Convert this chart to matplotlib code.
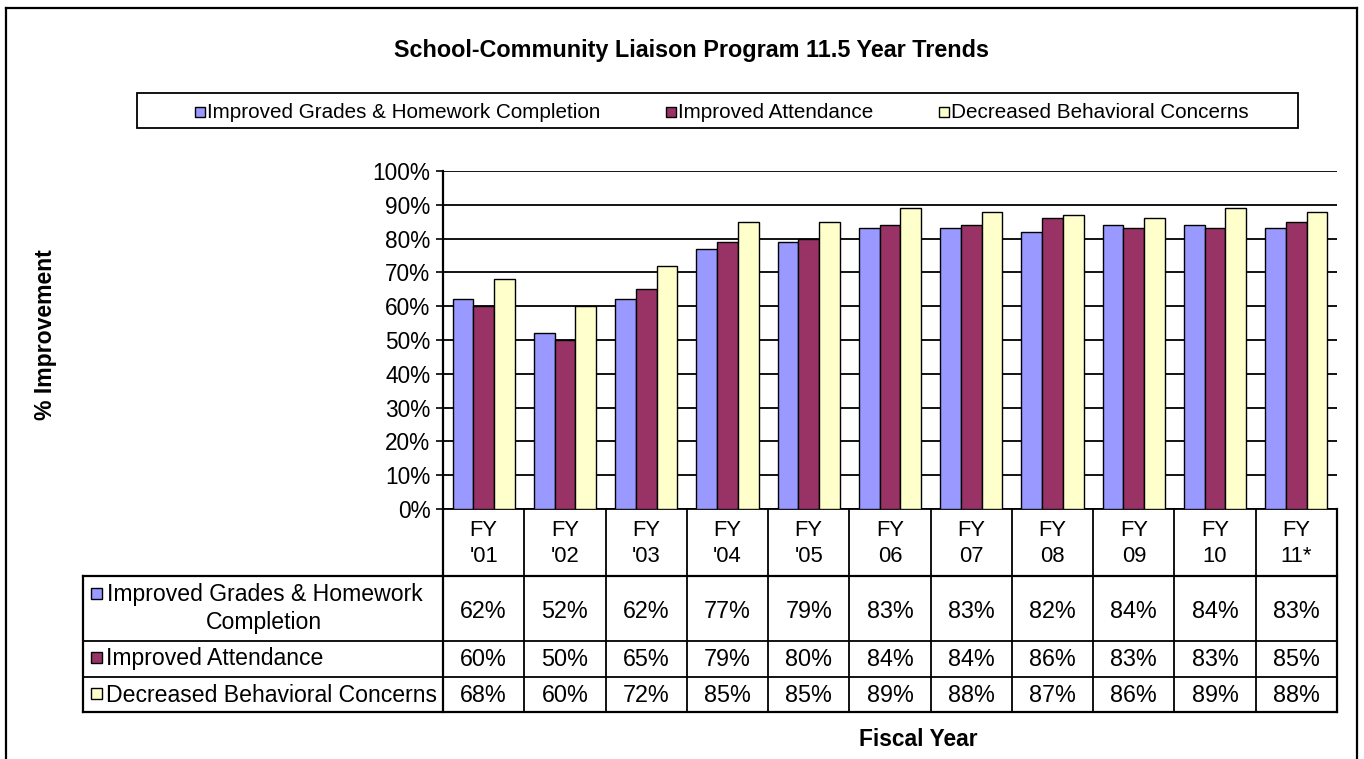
import matplotlib
matplotlib.use("Agg")
import matplotlib.pyplot as plt
from matplotlib.lines import Line2D
from matplotlib.patches import Rectangle

plt.rcParams['font.family'] = ['Liberation Sans', 'DejaVu Sans']

# ---- data -------------------------------------------------------------
years = ["FY\n'01", "FY\n'02", "FY\n'03", "FY\n'04", "FY\n'05", "FY\n06",
         "FY\n07", "FY\n08", "FY\n09", "FY\n10", "FY\n11*"]
series_names = ["Improved Grades & Homework Completion",
                "Improved Attendance",
                "Decreased Behavioral Concerns"]
grades = [62, 52, 62, 77, 79, 83, 83, 82, 84, 84, 83]
attendance = [60, 50, 65, 79, 80, 84, 84, 86, 83, 83, 85]
behavior = [68, 60, 72, 85, 85, 89, 88, 87, 86, 89, 88]
colors = ["#9999FF", "#993366", "#FFFFCC"]
yticks = [0, 10, 20, 30, 40, 50, 60, 70, 80, 90, 100]

W, H = 1364, 759
fig = plt.figure(figsize=(W / 100, H / 100), dpi=100)


def fx(x):
    return x / W


def fy(y):
    return 1 - y / H


def hline(x0, x1, y, lw=1.3):
    fig.add_artist(Line2D([fx(x0), fx(x1)], [fy(y), fy(y)], color="black", lw=lw))


def vline(x, y0, y1, lw=1.3):
    fig.add_artist(Line2D([fx(x), fx(x)], [fy(y0), fy(y1)], color="black", lw=lw))


def key(x, y, c, s=10):
    fig.add_artist(Rectangle((fx(x), fy(y + s)), s / W, s / H, facecolor=c,
                             edgecolor="black", lw=1.0))


# outer chart frame
hline(6, 1357, 8, lw=1.6)
vline(6, 8, 760, lw=1.6)
vline(1357, 8, 760, lw=1.6)

# ---- plot area --------------------------------------------------------
L, R, T, B = 443, 1337, 171, 509
ax = fig.add_axes([fx(L), fy(B), (R - L) / W, (B - T) / H])
n = len(years)
bw = 0.255
data = [grades, attendance, behavior]
for k, (vals, c) in enumerate(zip(data, colors)):
    xs = [i + 0.5 + (k - 1) * bw for i in range(n)]
    ax.bar(xs, vals, width=bw, color=c, edgecolor="black", lw=1.0, zorder=3)

ax.set_xlim(0, n)
ax.set_ylim(0, 100)
ax.set_yticks(yticks)
ax.set_yticklabels([f"{t}%" for t in yticks], fontsize=16.3)
ax.set_xticks([])
ax.yaxis.grid(True, color="black", lw=1.3, zorder=0)
ax.set_axisbelow(True)
for s in ("top", "right"):
    ax.spines[s].set_visible(False)
ax.spines["left"].set_linewidth(1.6)
ax.spines["bottom"].set_linewidth(1.3)
ax.tick_params(axis="y", direction="out", length=5, width=1.2, pad=4)
ax.patch.set_alpha(0)

# ---- data table -------------------------------------------------------
colw = (R - L) / n
rows_y = [509, 576, 641, 677, 712]
TL = 83
for i in range(n + 1):
    vline(L + i * colw, rows_y[0], rows_y[-1], lw=1.6 if i in (0, n) else 1.3)
vline(TL, rows_y[1], rows_y[-1], lw=1.6)
for j, y in enumerate(rows_y[1:]):
    hline(TL, R, y, lw=1.6 if j in (0, 3) else 1.3)

for i, lab in enumerate(years):
    top, bottom = lab.split("\n")
    cx = fx(L + (i + 0.5) * colw)
    fig.text(cx, fy(530), top, ha="center", va="center", fontsize=15.8)
    fig.text(cx, fy(557), bottom, ha="center", va="center", fontsize=15.8)

row_centers = [611, 660, 696]
for vals, yc in zip(data, row_centers):
    for i, v in enumerate(vals):
        fig.text(fx(L + (i + 0.5) * colw), fy(yc), f"{v}%", ha="center",
                 va="center", fontsize=16.8)

# row headers with legend keys
rfs = 16.6
key(91, 588, colors[0], 11)
fig.text(fx(107), fy(595), "Improved Grades & Homework", ha="left",
         va="center", fontsize=rfs)
fig.text(fx(264), fy(622), "Completion", ha="center", va="center", fontsize=rfs)
key(91, 652, colors[1], 11)
fig.text(fx(106), fy(658), series_names[1], ha="left", va="center", fontsize=rfs)
key(91, 688, colors[2], 11)
fig.text(fx(106), fy(695), series_names[2], ha="left", va="center", fontsize=rfs)

# ---- legend box -------------------------------------------------------
fig.add_artist(Rectangle((fx(137), fy(128)), (1298 - 137) / W, (128 - 93) / H,
                         facecolor="white", edgecolor="black", lw=1.3))
for name, c, x in zip(series_names, colors, [195, 666, 939]):
    key(x, 107, c, 10)
    fig.text(fx(x + 12), fy(112), name, ha="left", va="center", fontsize=14.9)

# ---- titles -----------------------------------------------------------
fig.text(fx(691), fy(50), "School-Community Liaison Program 11.5 Year Trends",
         ha="center", va="center", fontsize=16.8, fontweight="bold")
fig.text(fx(46), fy(335), "% Improvement", ha="center", va="center",
         rotation=90, fontsize=16.6, fontweight="bold")
fig.text(fx(918), fy(739), "Fiscal Year", ha="center", va="center",
         fontsize=16.4, fontweight="bold")

fig.savefig("out.png", dpi=100)
